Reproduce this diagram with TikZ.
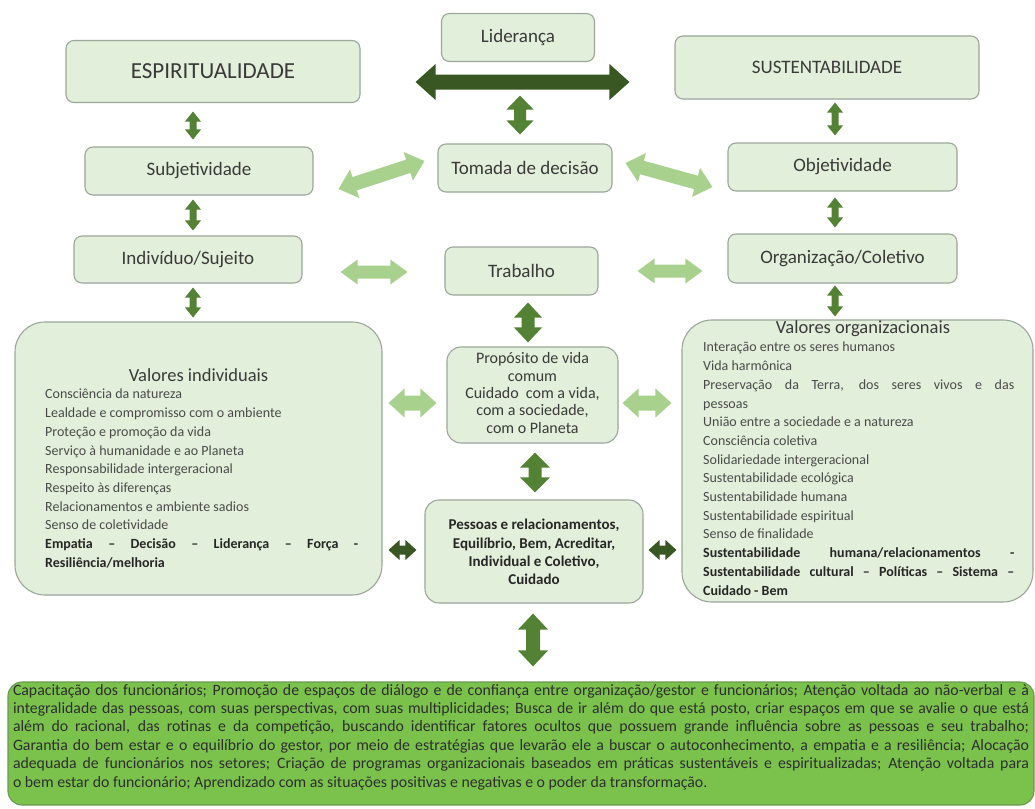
\documentclass[tikz,border=0pt]{standalone}
\usepackage{fontspec}
\setmainfont{Carlito}
\usetikzlibrary{calc}
\definecolor{boxfill}{HTML}{E2EFDA}
\definecolor{boxdraw}{HTML}{9AA79A}
\definecolor{darkarr}{HTML}{385723}
\definecolor{midarr}{HTML}{548235}
\definecolor{lightarr}{HTML}{A9D18E}
\definecolor{botfill}{HTML}{7BC24C}
\definecolor{botdraw}{HTML}{6A9A50}
\definecolor{txt}{HTML}{3A3A3A}
\definecolor{bodytxt}{HTML}{4A4A4A}
\begin{document}
\begin{tikzpicture}[x=1pt,y=-1pt,
  sbox/.style={draw=boxdraw, line width=1.1pt, fill=boxfill, rounded corners=8pt, inner sep=0pt, text=txt, font=\fontsize{19}{22}\selectfont},
  bbox/.style={draw=boxdraw, line width=1.1pt, fill=boxfill, rounded corners=30pt, inner sep=0pt},
  bodytext/.style={inner sep=0pt, anchor=north west, align=justify, text=bodytxt, font=\fontsize{14}{18.7}\selectfont},
  titletext/.style={inner sep=0pt, text=txt, font=\fontsize{18.5}{22}\selectfont},
  % block double arrow between two points:
  % #1 gap at start, #2 gap at end, #3 shaft half width, #4 head half width, #5 head length
  dblto/.style n args={5}{to path={
     ($(\tikztostart)!#1!(\tikztotarget)$) coordinate (dbS)
     ($(\tikztotarget)!#2!(\tikztostart)$) coordinate (dbE)
     ($(dbS)!#5!(dbE)$) coordinate (dbP)
     ($(dbE)!#5!(dbS)$) coordinate (dbQ)
     (dbS) -- ($(dbP)!#4!90:(dbE)$) -- ($(dbP)!#3!90:(dbE)$)
     -- ($(dbQ)!#3!-90:(dbS)$) -- ($(dbQ)!#4!-90:(dbS)$) -- (dbE)
     -- ($(dbQ)!#4!90:(dbS)$) -- ($(dbQ)!#3!90:(dbS)$)
     -- ($(dbP)!#3!-90:(dbE)$) -- ($(dbP)!#4!-90:(dbE)$) -- cycle}},
  darkA/.style={fill=darkarr},
  midA/.style={fill=midarr},
  lightA/.style={fill=lightarr}
]
\useasboundingbox (0,0) rectangle (1035,808);
\fill[white] (0,0) rectangle (1035,808);

% column / row helper coordinates
\coordinate (cL) at (193,0);
\coordinate (cR) at (835,0);
\coordinate (cM) at (520,0);
\coordinate (cT) at (528,0);
\coordinate (cP) at (535,0);
\coordinate (cB) at (533,0);
\coordinate (rD) at (0,82);
\coordinate (rT) at (0,272);
\coordinate (rO) at (0,271);
\coordinate (rV) at (0,403);
\coordinate (rS) at (0,550);

% boxes
\node[sbox, minimum width=153pt, minimum height=48pt] (lid) at (518,37.5) {Liderança};
\node[sbox, minimum width=294pt, minimum height=62pt, font=\fontsize{23}{26}\selectfont] (esp) at (213,71.5) {ESPIRITUALIDADE};
\node[sbox, minimum width=304pt, minimum height=63pt] (sus) at (827,67.5) {SUSTENTABILIDADE};
\node[sbox, minimum width=228pt, minimum height=48pt] (subj) at (199,171) {Subjetividade};
\node[sbox, minimum width=174pt, minimum height=48pt] (tom) at (525,168) {Tomada de decisão};
\node[sbox, minimum width=229pt, minimum height=48pt] (obj) at (842.5,167) {Objetividade};
\node[sbox, minimum width=228pt, minimum height=47pt] (ind) at (188,259.5) {Indivíduo/Sujeito};
\node[sbox, minimum width=153pt, minimum height=48pt] (trab) at (521.5,271) {Trabalho};
\node[sbox, minimum width=229pt, minimum height=49pt] (org) at (842.5,258.5) {Organização/Coletivo};

\node[bbox, minimum width=367pt, minimum height=273pt] (vind) at (198.5,458.5) {};
\node[sbox, minimum width=171pt, minimum height=96pt, rounded corners=14pt] (prop) at (532.5,395) {};
\node[sbox, minimum width=218pt, minimum height=103pt, rounded corners=14pt] (pess) at (534,551.5) {};
\node[bbox, minimum width=351pt, minimum height=282pt] (vorg) at (857.5,461) {};
\node[draw=botdraw, line width=1.1pt, fill=botfill, rounded corners=14pt, inner sep=0pt,
      minimum width=1026pt, minimum height=123pt] (bot) at (521,743.5) {};

% texts
\node[titletext] (vindt) at (198.5,375) {Valores individuais};
\node[bodytext, text width=313pt] (vindb) at (45,389) {%
Consciência da natureza\\
Lealdade e compromisso com o ambiente\\
Proteção e promoção da vida\\
Serviço à humanidade e ao Planeta\\
Responsabilidade intergeracional\\
Respeito às diferenças\\
Relacionamentos e ambiente sadios\\
Senso de coletividade\\
\textbf{\color{black!85}Empatia – Decisão – Liderança – Força -}\linebreak
\textbf{\color{black!85}Resiliência/melhoria}};

\node[titletext] (vorgt) at (863,329) {Valores organizacionais};
\node[bodytext, text width=311pt] (vorgb) at (703,342) {%
Interação entre os seres humanos\\
Vida harmônica\\
Preservação da Terra, dos seres vivos e das\linebreak
pessoas\\
União entre a sociedade e a natureza\\
Consciência coletiva\\
Solidariedade intergeracional\\
Sustentabilidade ecológica\\
Sustentabilidade humana\\
Sustentabilidade espiritual\\
Senso de finalidade\\
{\bfseries\color{black!85}Sustentabilidade humana/relacionamentos -\linebreak
Sustentabilidade cultural – Políticas – Sistema –\linebreak
Cuidado - Bem}};

\node[inner sep=0pt, align=center, text=txt, font=\fontsize{16}{17.3}\selectfont] (propt) at (532.5,393) {%
Propósito de vida\\comum\\Cuidado\ \ com a vida,\\com a sociedade,\\com o Planeta};
\node[inner sep=0pt, align=center, text=black!85, font=\bfseries\fontsize{15}{18.3}\selectfont] (pesst) at (534,552) {%
Pessoas e relacionamentos,\\Equilíbrio, Bem, Acreditar,\\Individual e Coletivo,\\Cuidado};

\node[inner sep=0pt, text width=1016pt, align=justify, text=black!82, font=\fontsize{15.8}{18.4}\selectfont] (bott) at (521,737) {%
Capacitação dos funcionários; Promoção de espaços de diálogo e de confiança entre organização/gestor e funcionários; Atenção voltada ao não-verbal e à\linebreak
integralidade das pessoas, com suas perspectivas, com suas multiplicidades; Busca de ir além do que está posto, criar espaços em que se avalie o que está\linebreak
além do racional, das rotinas e da competição, buscando identificar fatores ocultos que possuem grande influência sobre as pessoas e seu trabalho;\linebreak
Garantia do bem estar e o equilíbrio do gestor, por meio de estratégias que levarão ele a buscar o autoconhecimento, a empatia e a resiliência; Alocação\linebreak
adequada de funcionários nos setores; Criação de programas organizacionais baseados em práticas sustentáveis e espiritualizadas; Atenção voltada para\linebreak
o bem estar do funcionário; Aprendizado com as situações positivas e negativas e o poder da transformação.};

% diagonal arrow ends (free ends next to the nodes)
\coordinate (d1s) at ($(subj.east)+(25,18)$);
\coordinate (d1e) at ($(tom.west)+(-13,-7)$);
\coordinate (d2s) at ($(tom.east)+(13,-5)$);
\coordinate (d2e) at ($(obj.west)+(-15,20)$);

% connectors (block double arrows)
\fill[darkA, dblto={55pt}{45pt}{7.5pt}{18pt}{20pt}] (esp.east |- rD) to (sus.west |- rD);
\fill[midA, dblto={33.5pt}{9pt}{6pt}{13.5pt}{14pt}] (lid.south -| cM) to (tom.north -| cM);
\fill[midA, dblto={8.5pt}{7pt}{3.5pt}{8pt}{10pt}] (esp.south -| cL) to (subj.north -| cL);
\fill[midA, dblto={4pt}{5pt}{3.5pt}{8pt}{10pt}] (subj.south -| cL) to (ind.north -| cL);
\fill[midA, dblto={4pt}{4pt}{3.5pt}{8pt}{10pt}] (ind.south -| cL) to (vind.north -| cL);
\fill[midA, dblto={3pt}{7pt}{3.5pt}{8pt}{10pt}] (sus.south -| cR) to (obj.north -| cR);
\fill[midA, dblto={6pt}{6pt}{3.5pt}{8pt}{10pt}] (obj.south -| cR) to (org.north -| cR);
\fill[midA, dblto={2pt}{3pt}{3.5pt}{8pt}{10pt}] (org.south -| cR) to (vorg.north -| cR);
\fill[lightA, dblto={0pt}{0pt}{7pt}{15pt}{17pt}] (d1s) to (d1e);
\fill[lightA, dblto={0pt}{0pt}{7pt}{15pt}{17pt}] (d2s) to (d2e);
\fill[lightA, dblto={38pt}{37pt}{6.5pt}{12.5pt}{17pt}] (ind.east |- rT) to (trab.west |- rT);
\fill[lightA, dblto={39pt}{25pt}{6.5pt}{12.5pt}{17pt}] (trab.east |- rO) to (org.west |- rO);
\fill[midA, dblto={7pt}{4pt}{6.5pt}{14pt}{15pt}] (trab.south -| cT) to (prop.north -| cT);
\fill[lightA, dblto={6pt}{10pt}{7.5pt}{14.5pt}{16pt}] (vind.east |- rV) to (prop.west |- rV);
\fill[lightA, dblto={4pt}{10pt}{7.5pt}{14.5pt}{16pt}] (prop.east |- rV) to (vorg.west |- rV);
\fill[midA, dblto={9pt}{7pt}{6.5pt}{15pt}{15pt}] (prop.south -| cP) to (pess.north -| cP);
\fill[darkA, dblto={6pt}{8pt}{4.5pt}{10pt}{11pt}] (vind.east |- rS) to (pess.west |- rS);
\fill[darkA, dblto={5pt}{5pt}{4.5pt}{10pt}{11pt}] (pess.east |- rS) to (vorg.west |- rS);
\fill[midA, dblto={10pt}{15pt}{7pt}{15pt}{16pt}] (pess.south -| cB) to (bot.north -| cB);
\end{tikzpicture}
\end{document}
